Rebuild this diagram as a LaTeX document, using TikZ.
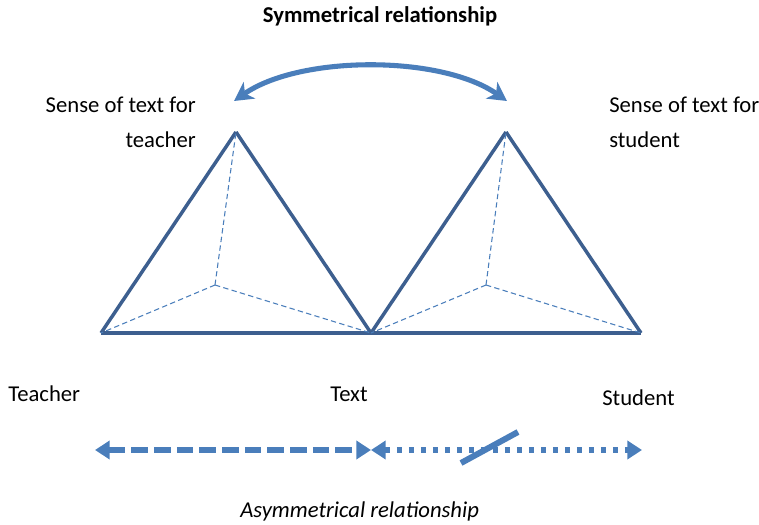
\documentclass[tikz,border=0pt]{standalone}
\usepackage{fontspec}
\setmainfont{Carlito}
\usetikzlibrary{arrows.meta}

\definecolor{edgeblue}{RGB}{61,95,143}
\definecolor{arrowblue}{RGB}{74,126,187}

\begin{document}
\begin{tikzpicture}[x=0.75pt,y=-0.75pt,
    every node/.style={font=\fontsize{17}{26}\selectfont,inner sep=0pt},
    side/.style={draw=edgeblue,line width=2.6pt,line join=round},
    inner/.style={draw=arrowblue,line width=0.8pt,dash pattern=on 4pt off 2.5pt},
    bigarrow/.style={draw=arrowblue,line width=3.8pt,
        {Triangle[length=11pt,width=13.5pt]}-{Triangle[length=11pt,width=13.5pt]}}]
    \useasboundingbox (0,0) rectangle (759,524);

    % triangles
    \coordinate (L1) at (101,333);
    \coordinate (T1) at (236,132);
    \coordinate (M) at (371,333);
    \coordinate (C1) at (215,285);
    \coordinate (T2) at (506,132);
    \coordinate (R2) at (641,333);
    \coordinate (C2) at (486,285);

    \path (L1) edge[side] (T1);
    \path (T1) edge[side] (M);
    \path (M) edge[side] (T2);
    \path (T2) edge[side] (R2);
    \path (L1) edge[side] (R2);

    \path (C1) edge[inner] (L1);
    \path (C1) edge[inner] (T1);
    \path (C1) edge[inner] (M);
    \path (C2) edge[inner] (M);
    \path (C2) edge[inner] (T2);
    \path (C2) edge[inner] (R2);

    % labels
    \node[anchor=base] (sym) at (380,23) {\bfseries Symmetrical relationship};
    \node[anchor=base east,align=right] (teach) at (196,147) {Sense of text for\\teacher};
    \node[anchor=base west,align=left] (stud) at (609,147) {Sense of text for\\student};
    \node[anchor=base west] (teacher) at (8,401) {Teacher};
    \node[anchor=base west] (text) at (330,401) {Text};
    \node[anchor=base west] (student) at (602,405) {Student};
    \node[anchor=base west] (asym) at (240,517) {\itshape Asymmetrical relationship};

    % symmetrical arc
    \coordinate (A1) at (234,101);
    \coordinate (A2) at (507,101);
    \draw[arrowblue,line width=3.8pt,
        {Stealth[length=14pt,width=15pt,inset=4pt]}-{Stealth[length=14pt,width=15pt,inset=4pt]}]
        (A1) .. controls (300,55) and (441,55) .. (A2);

    % asymmetrical arrows
    \coordinate (B1) at (95,450);
    \coordinate (B2) at (371,450);
    \coordinate (B3) at (642,450);
    \coordinate (S1) at (461,463);
    \coordinate (S2) at (518,432);
    \draw[bigarrow,dash pattern=on 12.5pt off 4.5pt] (B1) -- (B2);
    \draw[bigarrow,dash pattern=on 3.8pt off 5.2pt] (B2) -- (B3);
    \draw[arrowblue,line width=4.5pt] (S1) -- (S2);
\end{tikzpicture}
\end{document}
